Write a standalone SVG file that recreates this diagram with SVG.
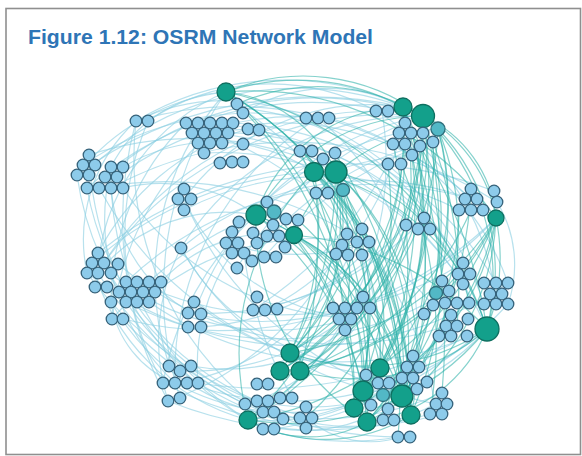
<svg xmlns="http://www.w3.org/2000/svg" width="582" height="456" viewBox="0 0 582 456">
<style>
.s{fill:#8dcbea;stroke:#35627a;stroke-width:1.3}
.h{fill:#13a08b;stroke:#0e6f60;stroke-width:1.3}
.m{fill:#52b8c6;stroke:#2f6f7c;stroke-width:1.3}
.b{fill:none;stroke:#8ccfe2;stroke-opacity:.62;stroke-width:1.2}
.t{fill:none;stroke:#2fb2a8;stroke-opacity:.58;stroke-width:1.2}
.title{font-family:"Liberation Sans",Arial,sans-serif;font-weight:bold;font-size:21px;fill:#2e75b6}
</style>
<rect x="0" y="0" width="582" height="456" fill="#fff"/>
<rect x="6" y="8.5" width="574.5" height="446" fill="#fff" stroke="#8f8f8f" stroke-width="1.6"/>
<text class="title" x="28" y="44" textLength="345" lengthAdjust="spacingAndGlyphs">Figure 1.12: OSRM Network Model</text>
<g id="connectors">
<path class="b" d="M175,383 A225,225 0 0 1 111,167"/>
<path class="b" d="M248,420 A288,288 0 0 1 111,167"/>
<path class="b" d="M111,167 A137,137 0 0 1 226,92"/>
<path class="b" d="M105,177 A324,324 0 0 1 423,116"/>
<path class="b" d="M99,160 A309,309 0 0 1 403,107"/>
<path class="b" d="M136,121 A287,287 0 0 1 423,116"/>
<path class="b" d="M263,412 A317,317 0 0 1 136,121"/>
<path class="b" d="M98,263 A213,213 0 0 1 226,92"/>
<path class="b" d="M248,420 A221,221 0 0 1 92,263"/>
<path class="b" d="M306,418 A227,227 0 0 1 111,302"/>
<path class="b" d="M104,263 A351,351 0 0 1 423,116"/>
<path class="b" d="M126,282 A355,355 0 0 1 471,199"/>
<path class="b" d="M169,365 A279,279 0 0 1 226,92"/>
<path class="b" d="M413,378 A238,238 0 0 1 175,383"/>
<path class="b" d="M435,404 A178,178 0 0 1 257,401"/>
<path class="b" d="M446,326 A219,219 0 0 1 248,420"/>
<path class="b" d="M402,396 A156,156 0 0 1 248,420"/>
<path class="b" d="M404,436 A100,100 0 0 1 306,418"/>
<path class="b" d="M184,199 A231,231 0 0 1 403,107"/>
<path class="b" d="M351,318 A205,205 0 0 1 184,199"/>
<path class="b" d="M210,133 A331,331 0 0 1 487,329"/>
<path class="b" d="M210,133 A284,284 0 0 1 463,263"/>
<path class="b" d="M210,133 A271,271 0 0 1 471,199"/>
<path class="b" d="M181,248 A295,295 0 0 1 471,199"/>
<path class="b" d="M380,368 A232,232 0 0 1 181,248"/>
<path class="b" d="M194,314 A306,306 0 0 1 423,116"/>
<path class="b" d="M496,218 A317,317 0 0 1 194,314"/>
<path class="b" d="M403,107 A245,245 0 0 1 265,310"/>
<path class="b" d="M240,108 A260,260 0 0 1 470,303"/>
<path class="b" d="M240,108 A295,295 0 0 1 380,368"/>
<path class="b" d="M255,130 A293,293 0 0 1 487,329"/>
<path class="b" d="M318,118 A277,277 0 0 1 413,378"/>
<path class="b" d="M175,383 A301,301 0 0 1 318,118"/>
<path class="b" d="M382,111 A317,317 0 0 1 263,412"/>
<path class="b" d="M98,273 A324,324 0 0 1 382,111"/>
<path class="b" d="M136,121 A347,347 0 0 1 471,199"/>
<path class="b" d="M351,318 A283,283 0 0 1 111,167"/>
<path class="b" d="M351,318 A259,259 0 0 1 98,263"/>
<path class="b" d="M355,242 A228,228 0 0 1 175,383"/>
<path class="b" d="M413,378 A366,366 0 0 1 99,188"/>
<path class="b" d="M210,133 A352,352 0 0 1 435,404"/>
<path class="b" d="M435,404 A350,350 0 0 1 184,199"/>
<path class="b" d="M181,248 A278,278 0 0 1 423,116"/>
<path class="b" d="M487,329 A339,339 0 0 1 149,302"/>
<path class="b" d="M487,329 A305,305 0 0 1 187,383"/>
<path class="b" d="M487,329 A240,240 0 0 1 257,401"/>
<path class="b" d="M257,401 A285,285 0 0 1 87,188"/>
<path class="b" d="M87,273 A160,160 0 0 1 136,121"/>
<path class="b" d="M194,314 A156,156 0 0 1 111,167"/>
<path class="b" d="M175,383 A103,103 0 0 1 111,302"/>
<path class="b" d="M98,273 A164,164 0 0 1 256,215"/>
<path class="b" d="M210,133 A131,131 0 0 1 336,172"/>
<path class="b" d="M243,113 A160,160 0 0 1 403,107"/>
<path class="b" d="M123,167 A180,180 0 0 1 314,172"/>
<path class="b" d="M123,188 A160,160 0 0 1 256,215"/>
<path class="b" d="M161,282 A150,150 0 0 1 294,235"/>
<path class="b" d="M155,292 A260,260 0 0 1 355,242"/>
<path class="b" d="M198,383 A200,200 0 0 1 232,253"/>
<path class="b" d="M168,401 A200,200 0 0 1 181,248"/>
<path class="b" d="M292,398 A400,400 0 0 1 244,253"/>
<path class="b" d="M263,429 A325,325 0 0 1 89,155"/>
<path class="b" d="M111,302 A250,250 0 0 1 186,123"/>
<path class="b" d="M77,175 A220,220 0 0 1 226,92"/>
<path class="b" d="M87,188 A340,340 0 0 1 388,111"/>
<path class="b" d="M112,319 A300,300 0 0 1 222,123"/>
<path class="b" d="M163,383 A300,300 0 0 1 148,121"/>
<path class="b" d="M245,404 A350,350 0 0 1 92,263"/>
<path class="b" d="M306,428 A350,350 0 0 1 123,319"/>
<path class="b" d="M430,414 A400,400 0 0 1 168,401"/>
<path class="b" d="M467,336 A420,420 0 0 1 198,383"/>
<path class="b" d="M508,304 A400,400 0 0 1 274,429"/>
<path class="b" d="M497,202 A120,120 0 0 1 508,304"/>
<path class="b" d="M329,118 A260,260 0 0 1 508,283"/>
<path class="b" d="M306,118 A300,300 0 0 1 484,304"/>
<path class="b" d="M376,111 A250,250 0 0 1 496,304"/>
<path class="b" d="M204,153 A290,290 0 0 1 463,284"/>
<path class="b" d="M233,123 A320,320 0 0 1 496,283"/>
<path class="b" d="M184,210 A300,300 0 0 1 459,210"/>
<path class="b" d="M99,188 A354,354 0 0 1 433,305"/>
<path class="b" d="M446,326 A340,340 0 0 1 118,264"/>
<path class="b" d="M449,291 A330,330 0 0 1 126,302"/>
<path class="b" d="M463,263 A340,340 0 0 1 137,282"/>
<path class="b" d="M424,218 A300,300 0 0 1 188,313"/>
<path class="b" d="M406,225 A260,260 0 0 1 253,310"/>
<path class="b" d="M362,255 A250,250 0 0 1 201,327"/>
<path class="b" d="M369,242 A220,220 0 0 1 226,243"/>
<path class="b" d="M336,254 A300,300 0 0 1 168,401"/>
<path class="b" d="M357,308 A250,250 0 0 1 180,371"/>
<path class="b" d="M345,330 A200,200 0 0 1 191,366"/>
<path class="b" d="M370,308 A250,250 0 0 1 257,401"/>
<path class="b" d="M442,393 A300,300 0 0 1 300,418"/>
<path class="b" d="M451,336 A280,280 0 0 1 312,418"/>
<path class="b" d="M232,232 A300,300 0 0 1 412,155"/>
<path class="b" d="M226,243 A300,300 0 0 1 399,133"/>
<path class="b" d="M237,268 A350,350 0 0 1 405,123"/>
<path class="b" d="M252,261 A300,300 0 0 1 433,142"/>
<path class="b" d="M388,164 A400,400 0 0 1 253,310"/>
<path class="b" d="M264,257 A400,400 0 0 1 420,146"/>
<path class="b" d="M98,253 A250,250 0 0 1 247,129"/>
<path class="b" d="M83,165 A300,300 0 0 1 306,118"/>
<path class="b" d="M77,175 A400,400 0 0 1 403,107"/>
<path class="b" d="M89,155 A330,330 0 0 1 336,172"/>
<path class="b" d="M92,263 A360,360 0 0 1 314,172"/>
<path class="b" d="M112,319 A380,380 0 0 1 256,215"/>
<path class="b" d="M163,383 A300,300 0 0 1 256,215"/>
<path class="b" d="M180,398 A350,350 0 0 1 226,92"/>
<path class="b" d="M168,401 A380,380 0 0 1 136,121"/>
<path class="b" d="M245,404 A300,300 0 0 1 77,175"/>
<path class="b" d="M283,419 A350,350 0 0 1 98,253"/>
<path class="b" d="M312,418 A380,380 0 0 1 87,273"/>
<path class="b" d="M442,414 A380,380 0 0 1 163,383"/>
<path class="b" d="M410,437 A400,400 0 0 1 245,404"/>
<path class="b" d="M398,437 A300,300 0 0 1 263,429"/>
<path class="b" d="M496,218 A400,400 0 0 1 123,319"/>
<path class="b" d="M508,283 A360,360 0 0 1 87,273"/>
<path class="b" d="M111,188 A380,380 0 0 1 497,202"/>
<path class="b" d="M98,253 A400,400 0 0 1 494,191"/>
<path class="b" d="M117,177 A300,300 0 0 1 329,118"/>
<path class="b" d="M136,121 A200,200 0 0 1 306,118"/>
<path class="b" d="M148,121 A220,220 0 0 1 376,111"/>
<path class="b" d="M402,396 A300,300 0 0 1 181,248"/>
<path class="b" d="M380,368 A300,300 0 0 1 194,302"/>
<path class="t" d="M423,116 A351,351 0 0 1 248,420"/>
<path class="t" d="M403,107 A349,349 0 0 1 248,420"/>
<path class="t" d="M226,92 A351,351 0 0 1 402,396"/>
<path class="t" d="M226,92 A352,352 0 0 1 487,329"/>
<path class="t" d="M226,92 A198,198 0 0 1 423,116"/>
<path class="t" d="M423,116 A222,222 0 0 1 487,329"/>
<path class="t" d="M403,107 A287,287 0 0 1 363,391"/>
<path class="t" d="M423,116 A311,311 0 0 1 367,422"/>
<path class="t" d="M336,172 A254,254 0 0 1 411,415"/>
<path class="t" d="M314,172 A239,239 0 0 1 354,408"/>
<path class="t" d="M336,172 A187,187 0 0 1 290,353"/>
<path class="t" d="M496,218 A218,218 0 0 1 363,391"/>
<path class="t" d="M496,218 A241,241 0 0 1 367,422"/>
<path class="t" d="M438,129 A269,269 0 0 1 402,396"/>
<path class="t" d="M256,215 A194,194 0 0 1 423,116"/>
<path class="t" d="M256,215 A197,197 0 0 1 380,368"/>
<path class="t" d="M294,235 A215,215 0 0 1 411,415"/>
<path class="t" d="M403,107 A305,305 0 0 1 354,408"/>
<path class="t" d="M423,116 A283,283 0 0 1 300,371"/>
<path class="t" d="M487,329 A152,152 0 0 1 367,422"/>
<path class="t" d="M487,329 A256,256 0 0 1 248,420"/>
<path class="t" d="M226,92 A136,136 0 0 1 336,172"/>
<path class="t" d="M226,92 A298,298 0 0 1 496,218"/>
<path class="t" d="M314,172 A207,207 0 0 1 380,368"/>
<path class="t" d="M403,107 A145,145 0 0 1 496,218"/>
<path class="t" d="M423,116 A125,125 0 0 1 496,218"/>
<path class="t" d="M438,129 A206,206 0 0 1 487,329"/>
<path class="t" d="M336,172 A234,234 0 0 1 402,396"/>
<path class="t" d="M367,422 A235,235 0 0 1 256,215"/>
<path class="t" d="M248,420 A257,257 0 0 1 314,172"/>
<path class="t" d="M294,235 A194,194 0 0 1 402,396"/>
<path class="t" d="M405,144 A259,259 0 0 1 280,371"/>
<path class="t" d="M423,116 A214,214 0 0 1 351,318"/>
<path class="t" d="M403,107 A326,326 0 0 1 306,418"/>
<path class="t" d="M496,218 A320,320 0 0 1 248,420"/>
<path class="t" d="M496,218 A265,265 0 0 1 280,371"/>
<path class="t" d="M226,92 A372,372 0 0 1 411,415"/>
<path class="t" d="M336,172 A187,187 0 0 1 470,303"/>
<path class="t" d="M314,172 A234,234 0 0 1 487,329"/>
<path class="t" d="M438,129 A246,246 0 0 1 380,368"/>
<path class="t" d="M403,107 A271,271 0 0 1 290,353"/>
<path class="t" d="M294,235 A171,171 0 0 1 363,391"/>
<path class="t" d="M423,116 A272,272 0 0 1 290,353"/>
<path class="t" d="M336,172 A263,263 0 0 1 248,420"/>
<path class="t" d="M393,144 A500,500 0 0 1 383,420"/>
<path class="t" d="M412,155 A500,500 0 0 1 413,378"/>
<path class="t" d="M343,190 A450,450 0 0 1 345,330"/>
<path class="t" d="M328,193 A500,500 0 0 1 371,405"/>
<path class="t" d="M405,123 A600,600 0 0 1 442,393"/>
<path class="t" d="M401,164 A450,450 0 0 1 430,414"/>
<path class="t" d="M420,146 A500,500 0 0 1 487,329"/>
<path class="t" d="M388,164 A500,500 0 0 1 354,408"/>
<path class="t" d="M433,142 A420,420 0 0 1 457,326"/>
<path class="t" d="M316,193 A500,500 0 0 1 300,371"/>
<path class="t" d="M274,212 A400,400 0 0 1 363,391"/>
<path class="t" d="M298,220 A350,350 0 0 1 402,396"/>
<path class="t" d="M362,229 A400,400 0 0 1 398,437"/>
<path class="t" d="M424,218 A350,350 0 0 1 388,409"/>
<path class="t" d="M335,153 A500,500 0 0 1 411,415"/>
<path class="t" d="M471,189 A400,400 0 0 1 402,396"/>
<path class="t" d="M459,210 A300,300 0 0 1 367,422"/>
<path class="t" d="M496,218 A200,200 0 0 1 487,329"/>
<path class="t" d="M226,92 A220,220 0 0 1 403,107"/>
<path class="t" d="M237,104 A200,200 0 0 1 423,116"/>
<path class="t" d="M256,215 A160,160 0 0 1 403,107"/>
<path class="t" d="M294,235 A170,170 0 0 1 438,129"/>
<path class="t" d="M367,422 A119,119 0 0 1 248,420"/>
<path class="t" d="M411,415 A163,163 0 0 1 248,420"/>
<path class="t" d="M256,215 A400,400 0 0 1 402,396"/>
<path class="t" d="M294,235 A300,300 0 0 1 487,329"/>
<path class="t" d="M314,172 A350,350 0 0 1 411,415"/>
<path class="t" d="M336,172 A400,400 0 0 1 363,391"/>
<path class="t" d="M403,107 A400,400 0 0 1 380,368"/>
<path class="t" d="M423,116 A400,400 0 0 1 402,396"/>
<path class="t" d="M226,92 A400,400 0 0 1 363,391"/>
<path class="t" d="M226,92 A420,420 0 0 1 354,408"/>
<path class="t" d="M256,215 A300,300 0 0 1 367,422"/>
<path class="t" d="M294,235 A260,260 0 0 1 354,408"/>
<path class="t" d="M314,172 A300,300 0 0 1 290,353"/>
<path class="t" d="M336,172 A280,280 0 0 1 280,371"/>
<path class="t" d="M423,116 A320,320 0 0 1 280,371"/>
<path class="t" d="M438,129 A300,300 0 0 1 300,371"/>
<path class="t" d="M496,218 A300,300 0 0 1 300,371"/>
<path class="t" d="M496,218 A300,300 0 0 1 290,353"/>
<path class="t" d="M487,329 A200,200 0 0 1 300,371"/>
<path class="t" d="M487,329 A220,220 0 0 1 290,353"/>
<path class="t" d="M496,218 A280,280 0 0 1 354,408"/>
<path class="t" d="M403,107 A360,360 0 0 1 411,415"/>
<path class="t" d="M438,129 A320,320 0 0 1 367,422"/>
<path class="t" d="M336,172 A300,300 0 0 1 354,408"/>
<path class="t" d="M423,116 A380,380 0 0 1 354,408"/>
<path class="t" d="M256,215 A250,250 0 0 1 411,415"/>
<path class="t" d="M226,92 A300,300 0 0 1 380,368"/>
<path class="t" d="M314,172 A260,260 0 0 1 402,396"/>
<path class="t" d="M362,229 A300,300 0 0 1 290,353"/>
<path class="t" d="M406,225 A300,300 0 0 1 280,371"/>
<path class="t" d="M471,210 A300,300 0 0 1 300,371"/>
<path class="t" d="M433,142 A400,400 0 0 1 363,391"/>
<path class="t" d="M343,190 A400,400 0 0 1 402,396"/>
<path class="t" d="M316,193 A400,400 0 0 1 367,422"/>
<path class="t" d="M335,153 A380,380 0 0 1 290,353"/>
<path class="t" d="M300,151 A500,500 0 0 1 345,330"/>
</g>
<g id="n1"><circle class="h" cx="226" cy="92" r="9"/></g>
<g id="n2"><circle class="s" cx="237" cy="104" r="5.8"/></g>
<g id="n3"><circle class="s" cx="243" cy="113" r="5.8"/></g>
<g id="n4"><circle class="s" cx="136" cy="121" r="5.8"/></g>
<g id="n5"><circle class="s" cx="148" cy="121" r="5.8"/></g>
<g id="n6"><circle class="s" cx="186" cy="123" r="5.8"/></g>
<g id="n7"><circle class="s" cx="198" cy="123" r="5.8"/></g>
<g id="n8"><circle class="s" cx="210" cy="123" r="5.8"/></g>
<g id="n9"><circle class="s" cx="222" cy="123" r="5.8"/></g>
<g id="n10"><circle class="s" cx="233" cy="123" r="5.8"/></g>
<g id="n11"><circle class="s" cx="248" cy="129" r="5.8"/></g>
<g id="n12"><circle class="s" cx="259" cy="130" r="5.8"/></g>
<g id="n13"><circle class="s" cx="192" cy="133" r="5.8"/></g>
<g id="n14"><circle class="s" cx="204" cy="133" r="5.8"/></g>
<g id="n15"><circle class="s" cx="216" cy="133" r="5.8"/></g>
<g id="n16"><circle class="s" cx="228" cy="133" r="5.8"/></g>
<g id="n17"><circle class="s" cx="198" cy="143" r="5.8"/></g>
<g id="n18"><circle class="s" cx="210" cy="143" r="5.8"/></g>
<g id="n19"><circle class="s" cx="222" cy="143" r="5.8"/></g>
<g id="n20"><circle class="s" cx="243" cy="144" r="5.8"/></g>
<g id="n21"><circle class="s" cx="204" cy="153" r="5.8"/></g>
<g id="n22"><circle class="s" cx="220" cy="163" r="5.8"/></g>
<g id="n23"><circle class="s" cx="232" cy="162" r="5.8"/></g>
<g id="n24"><circle class="s" cx="243" cy="162" r="5.8"/></g>
<g id="n25"><circle class="s" cx="89" cy="155" r="5.8"/></g>
<g id="n26"><circle class="s" cx="83" cy="165" r="5.8"/></g>
<g id="n27"><circle class="s" cx="95" cy="165" r="5.8"/></g>
<g id="n28"><circle class="s" cx="77" cy="175" r="5.8"/></g>
<g id="n29"><circle class="s" cx="89" cy="175" r="5.8"/></g>
<g id="n30"><circle class="s" cx="111" cy="167" r="5.8"/></g>
<g id="n31"><circle class="s" cx="123" cy="167" r="5.8"/></g>
<g id="n32"><circle class="s" cx="105" cy="177" r="5.8"/></g>
<g id="n33"><circle class="s" cx="117" cy="177" r="5.8"/></g>
<g id="n34"><circle class="s" cx="87" cy="188" r="5.8"/></g>
<g id="n35"><circle class="s" cx="99" cy="188" r="5.8"/></g>
<g id="n36"><circle class="s" cx="111" cy="188" r="5.8"/></g>
<g id="n37"><circle class="s" cx="123" cy="188" r="5.8"/></g>
<g id="n38"><circle class="s" cx="184" cy="189" r="5.8"/></g>
<g id="n39"><circle class="s" cx="178" cy="199" r="5.8"/></g>
<g id="n40"><circle class="s" cx="191" cy="199" r="5.8"/></g>
<g id="n41"><circle class="s" cx="184" cy="210" r="5.8"/></g>
<g id="n42"><circle class="s" cx="181" cy="248" r="5.8"/></g>
<g id="n43"><circle class="s" cx="98" cy="253" r="5.8"/></g>
<g id="n44"><circle class="s" cx="92" cy="263" r="5.8"/></g>
<g id="n45"><circle class="s" cx="104" cy="263" r="5.8"/></g>
<g id="n46"><circle class="s" cx="118" cy="264" r="5.8"/></g>
<g id="n47"><circle class="s" cx="87" cy="273" r="5.8"/></g>
<g id="n48"><circle class="s" cx="98" cy="273" r="5.8"/></g>
<g id="n49"><circle class="s" cx="111" cy="273" r="5.8"/></g>
<g id="n50"><circle class="s" cx="95" cy="287" r="5.8"/></g>
<g id="n51"><circle class="s" cx="107" cy="287" r="5.8"/></g>
<g id="n52"><circle class="s" cx="126" cy="282" r="5.8"/></g>
<g id="n53"><circle class="s" cx="137" cy="282" r="5.8"/></g>
<g id="n54"><circle class="s" cx="149" cy="282" r="5.8"/></g>
<g id="n55"><circle class="s" cx="161" cy="282" r="5.8"/></g>
<g id="n56"><circle class="s" cx="119" cy="292" r="5.8"/></g>
<g id="n57"><circle class="s" cx="131" cy="292" r="5.8"/></g>
<g id="n58"><circle class="s" cx="143" cy="292" r="5.8"/></g>
<g id="n59"><circle class="s" cx="155" cy="292" r="5.8"/></g>
<g id="n60"><circle class="s" cx="111" cy="302" r="5.8"/></g>
<g id="n61"><circle class="s" cx="126" cy="302" r="5.8"/></g>
<g id="n62"><circle class="s" cx="137" cy="302" r="5.8"/></g>
<g id="n63"><circle class="s" cx="149" cy="302" r="5.8"/></g>
<g id="n64"><circle class="s" cx="112" cy="319" r="5.8"/></g>
<g id="n65"><circle class="s" cx="123" cy="319" r="5.8"/></g>
<g id="n66"><circle class="s" cx="194" cy="302" r="5.8"/></g>
<g id="n67"><circle class="s" cx="188" cy="313" r="5.8"/></g>
<g id="n68"><circle class="s" cx="201" cy="314" r="5.8"/></g>
<g id="n69"><circle class="s" cx="188" cy="327" r="5.8"/></g>
<g id="n70"><circle class="s" cx="201" cy="327" r="5.8"/></g>
<g id="n71"><circle class="s" cx="306" cy="118" r="5.8"/></g>
<g id="n72"><circle class="s" cx="318" cy="118" r="5.8"/></g>
<g id="n73"><circle class="s" cx="329" cy="118" r="5.8"/></g>
<g id="n74"><circle class="s" cx="376" cy="111" r="5.8"/></g>
<g id="n75"><circle class="s" cx="388" cy="111" r="5.8"/></g>
<g id="n76"><circle class="h" cx="403" cy="107" r="9"/></g>
<g id="n77"><circle class="h" cx="423" cy="116" r="11.5"/></g>
<g id="n78"><circle class="m" cx="438" cy="129" r="7"/></g>
<g id="n79"><circle class="s" cx="405" cy="123" r="5.8"/></g>
<g id="n80"><circle class="s" cx="399" cy="133" r="5.8"/></g>
<g id="n81"><circle class="s" cx="411" cy="133" r="5.8"/></g>
<g id="n82"><circle class="s" cx="423" cy="133" r="5.8"/></g>
<g id="n83"><circle class="s" cx="393" cy="144" r="5.8"/></g>
<g id="n84"><circle class="s" cx="405" cy="144" r="5.8"/></g>
<g id="n85"><circle class="s" cx="420" cy="146" r="5.8"/></g>
<g id="n86"><circle class="s" cx="433" cy="142" r="5.8"/></g>
<g id="n87"><circle class="s" cx="412" cy="155" r="5.8"/></g>
<g id="n88"><circle class="s" cx="388" cy="164" r="5.8"/></g>
<g id="n89"><circle class="s" cx="401" cy="164" r="5.8"/></g>
<g id="n90"><circle class="s" cx="300" cy="151" r="5.8"/></g>
<g id="n91"><circle class="s" cx="312" cy="151" r="5.8"/></g>
<g id="n92"><circle class="s" cx="335" cy="153" r="5.8"/></g>
<g id="n93"><circle class="s" cx="323" cy="159" r="5.8"/></g>
<g id="n94"><circle class="h" cx="314" cy="172" r="9.5"/></g>
<g id="n95"><circle class="h" cx="336" cy="172" r="11"/></g>
<g id="n96"><circle class="s" cx="316" cy="193" r="5.8"/></g>
<g id="n97"><circle class="s" cx="328" cy="193" r="5.8"/></g>
<g id="n98"><circle class="m" cx="343" cy="190" r="6.5"/></g>
<g id="n99"><circle class="h" cx="256" cy="215" r="10"/></g>
<g id="n100"><circle class="s" cx="267" cy="202" r="5.8"/></g>
<g id="n101"><circle class="m" cx="274" cy="212" r="7"/></g>
<g id="n102"><circle class="s" cx="286" cy="219" r="5.8"/></g>
<g id="n103"><circle class="s" cx="298" cy="220" r="5.8"/></g>
<g id="n104"><circle class="s" cx="239" cy="222" r="5.8"/></g>
<g id="n105"><circle class="s" cx="253" cy="233" r="5.8"/></g>
<g id="n106"><circle class="s" cx="273" cy="225" r="5.8"/></g>
<g id="n107"><circle class="s" cx="267" cy="236" r="5.8"/></g>
<g id="n108"><circle class="s" cx="279" cy="236" r="5.8"/></g>
<g id="n109"><circle class="h" cx="294" cy="235" r="8.5"/></g>
<g id="n110"><circle class="s" cx="232" cy="232" r="5.8"/></g>
<g id="n111"><circle class="s" cx="226" cy="243" r="5.8"/></g>
<g id="n112"><circle class="s" cx="238" cy="243" r="5.8"/></g>
<g id="n113"><circle class="s" cx="257" cy="243" r="5.8"/></g>
<g id="n114"><circle class="s" cx="285" cy="247" r="5.8"/></g>
<g id="n115"><circle class="s" cx="232" cy="253" r="5.8"/></g>
<g id="n116"><circle class="s" cx="244" cy="253" r="5.8"/></g>
<g id="n117"><circle class="s" cx="264" cy="257" r="5.8"/></g>
<g id="n118"><circle class="s" cx="276" cy="257" r="5.8"/></g>
<g id="n119"><circle class="s" cx="252" cy="261" r="5.8"/></g>
<g id="n120"><circle class="s" cx="237" cy="268" r="5.8"/></g>
<g id="n121"><circle class="s" cx="257" cy="297" r="5.8"/></g>
<g id="n122"><circle class="s" cx="253" cy="310" r="5.8"/></g>
<g id="n123"><circle class="s" cx="265" cy="310" r="5.8"/></g>
<g id="n124"><circle class="s" cx="277" cy="309" r="5.8"/></g>
<g id="n125"><circle class="s" cx="406" cy="225" r="5.8"/></g>
<g id="n126"><circle class="s" cx="424" cy="218" r="5.8"/></g>
<g id="n127"><circle class="s" cx="418" cy="229" r="5.8"/></g>
<g id="n128"><circle class="s" cx="430" cy="229" r="5.8"/></g>
<g id="n129"><circle class="s" cx="362" cy="229" r="5.8"/></g>
<g id="n130"><circle class="s" cx="347" cy="234" r="5.8"/></g>
<g id="n131"><circle class="s" cx="357" cy="242" r="5.8"/></g>
<g id="n132"><circle class="s" cx="369" cy="242" r="5.8"/></g>
<g id="n133"><circle class="s" cx="342" cy="245" r="5.8"/></g>
<g id="n134"><circle class="s" cx="336" cy="254" r="5.8"/></g>
<g id="n135"><circle class="s" cx="348" cy="255" r="5.8"/></g>
<g id="n136"><circle class="s" cx="362" cy="255" r="5.8"/></g>
<g id="n137"><circle class="s" cx="471" cy="189" r="5.8"/></g>
<g id="n138"><circle class="s" cx="465" cy="199" r="5.8"/></g>
<g id="n139"><circle class="s" cx="477" cy="199" r="5.8"/></g>
<g id="n140"><circle class="s" cx="459" cy="210" r="5.8"/></g>
<g id="n141"><circle class="s" cx="471" cy="210" r="5.8"/></g>
<g id="n142"><circle class="s" cx="483" cy="210" r="5.8"/></g>
<g id="n143"><circle class="s" cx="494" cy="191" r="5.8"/></g>
<g id="n144"><circle class="s" cx="497" cy="202" r="5.8"/></g>
<g id="n145"><circle class="h" cx="496" cy="218" r="8"/></g>
<g id="n146"><circle class="s" cx="463" cy="263" r="5.8"/></g>
<g id="n147"><circle class="s" cx="458" cy="274" r="5.8"/></g>
<g id="n148"><circle class="s" cx="470" cy="274" r="5.8"/></g>
<g id="n149"><circle class="s" cx="463" cy="284" r="5.8"/></g>
<g id="n150"><circle class="s" cx="442" cy="281" r="5.8"/></g>
<g id="n151"><circle class="m" cx="436" cy="293" r="6.5"/></g>
<g id="n152"><circle class="s" cx="449" cy="291" r="5.8"/></g>
<g id="n153"><circle class="s" cx="433" cy="305" r="5.8"/></g>
<g id="n154"><circle class="s" cx="445" cy="303" r="5.8"/></g>
<g id="n155"><circle class="s" cx="457" cy="303" r="5.8"/></g>
<g id="n156"><circle class="s" cx="469" cy="303" r="5.8"/></g>
<g id="n157"><circle class="s" cx="484" cy="283" r="5.8"/></g>
<g id="n158"><circle class="s" cx="496" cy="283" r="5.8"/></g>
<g id="n159"><circle class="s" cx="508" cy="283" r="5.8"/></g>
<g id="n160"><circle class="s" cx="490" cy="294" r="5.8"/></g>
<g id="n161"><circle class="s" cx="502" cy="294" r="5.8"/></g>
<g id="n162"><circle class="s" cx="484" cy="304" r="5.8"/></g>
<g id="n163"><circle class="s" cx="496" cy="304" r="5.8"/></g>
<g id="n164"><circle class="s" cx="508" cy="304" r="5.8"/></g>
<g id="n165"><circle class="h" cx="487" cy="329" r="12"/></g>
<g id="n166"><circle class="s" cx="451" cy="315" r="5.8"/></g>
<g id="n167"><circle class="s" cx="468" cy="319" r="5.8"/></g>
<g id="n168"><circle class="s" cx="446" cy="326" r="5.8"/></g>
<g id="n169"><circle class="s" cx="457" cy="326" r="5.8"/></g>
<g id="n170"><circle class="s" cx="439" cy="336" r="5.8"/></g>
<g id="n171"><circle class="s" cx="451" cy="336" r="5.8"/></g>
<g id="n172"><circle class="s" cx="467" cy="336" r="5.8"/></g>
<g id="n173"><circle class="s" cx="424" cy="314" r="5.8"/></g>
<g id="n174"><circle class="s" cx="363" cy="297" r="5.8"/></g>
<g id="n175"><circle class="s" cx="333" cy="308" r="5.8"/></g>
<g id="n176"><circle class="s" cx="345" cy="308" r="5.8"/></g>
<g id="n177"><circle class="s" cx="357" cy="308" r="5.8"/></g>
<g id="n178"><circle class="s" cx="370" cy="308" r="5.8"/></g>
<g id="n179"><circle class="s" cx="339" cy="319" r="5.8"/></g>
<g id="n180"><circle class="s" cx="351" cy="319" r="5.8"/></g>
<g id="n181"><circle class="s" cx="345" cy="330" r="5.8"/></g>
<g id="n182"><circle class="s" cx="169" cy="366" r="5.8"/></g>
<g id="n183"><circle class="s" cx="191" cy="366" r="5.8"/></g>
<g id="n184"><circle class="s" cx="180" cy="371" r="5.8"/></g>
<g id="n185"><circle class="s" cx="163" cy="383" r="5.8"/></g>
<g id="n186"><circle class="s" cx="175" cy="383" r="5.8"/></g>
<g id="n187"><circle class="s" cx="187" cy="383" r="5.8"/></g>
<g id="n188"><circle class="s" cx="198" cy="383" r="5.8"/></g>
<g id="n189"><circle class="s" cx="168" cy="401" r="5.8"/></g>
<g id="n190"><circle class="s" cx="180" cy="398" r="5.8"/></g>
<g id="n191"><circle class="h" cx="290" cy="353" r="9"/></g>
<g id="n192"><circle class="h" cx="280" cy="371" r="9"/></g>
<g id="n193"><circle class="h" cx="300" cy="371" r="9"/></g>
<g id="n194"><circle class="s" cx="257" cy="384" r="5.8"/></g>
<g id="n195"><circle class="s" cx="268" cy="384" r="5.8"/></g>
<g id="n196"><circle class="s" cx="245" cy="404" r="5.8"/></g>
<g id="n197"><circle class="s" cx="257" cy="401" r="5.8"/></g>
<g id="n198"><circle class="s" cx="268" cy="401" r="5.8"/></g>
<g id="n199"><circle class="s" cx="280" cy="398" r="5.8"/></g>
<g id="n200"><circle class="s" cx="292" cy="398" r="5.8"/></g>
<g id="n201"><circle class="s" cx="263" cy="412" r="5.8"/></g>
<g id="n202"><circle class="s" cx="274" cy="412" r="5.8"/></g>
<g id="n203"><circle class="s" cx="283" cy="419" r="5.8"/></g>
<g id="n204"><circle class="h" cx="248" cy="420" r="9"/></g>
<g id="n205"><circle class="s" cx="263" cy="429" r="5.8"/></g>
<g id="n206"><circle class="s" cx="274" cy="429" r="5.8"/></g>
<g id="n207"><circle class="s" cx="306" cy="407" r="5.8"/></g>
<g id="n208"><circle class="s" cx="300" cy="418" r="5.8"/></g>
<g id="n209"><circle class="s" cx="312" cy="418" r="5.8"/></g>
<g id="n210"><circle class="s" cx="306" cy="428" r="5.8"/></g>
<g id="n211"><circle class="h" cx="380" cy="368" r="9"/></g>
<g id="n212"><circle class="s" cx="366" cy="375" r="5.8"/></g>
<g id="n213"><circle class="s" cx="378" cy="383" r="5.8"/></g>
<g id="n214"><circle class="s" cx="389" cy="383" r="5.8"/></g>
<g id="n215"><circle class="h" cx="363" cy="391" r="10"/></g>
<g id="n216"><circle class="m" cx="383" cy="395" r="6.5"/></g>
<g id="n217"><circle class="h" cx="402" cy="396" r="11"/></g>
<g id="n218"><circle class="h" cx="354" cy="408" r="9"/></g>
<g id="n219"><circle class="s" cx="371" cy="405" r="5.8"/></g>
<g id="n220"><circle class="s" cx="388" cy="409" r="5.8"/></g>
<g id="n221"><circle class="h" cx="367" cy="422" r="9"/></g>
<g id="n222"><circle class="s" cx="383" cy="420" r="5.8"/></g>
<g id="n223"><circle class="s" cx="394" cy="420" r="5.8"/></g>
<g id="n224"><circle class="h" cx="411" cy="415" r="9"/></g>
<g id="n225"><circle class="s" cx="413" cy="356" r="5.8"/></g>
<g id="n226"><circle class="s" cx="407" cy="367" r="5.8"/></g>
<g id="n227"><circle class="s" cx="419" cy="367" r="5.8"/></g>
<g id="n228"><circle class="s" cx="402" cy="378" r="5.8"/></g>
<g id="n229"><circle class="s" cx="413" cy="378" r="5.8"/></g>
<g id="n230"><circle class="s" cx="427" cy="382" r="5.8"/></g>
<g id="n231"><circle class="s" cx="417" cy="389" r="5.8"/></g>
<g id="n232"><circle class="s" cx="442" cy="393" r="5.8"/></g>
<g id="n233"><circle class="s" cx="436" cy="404" r="5.8"/></g>
<g id="n234"><circle class="s" cx="447" cy="404" r="5.8"/></g>
<g id="n235"><circle class="s" cx="430" cy="414" r="5.8"/></g>
<g id="n236"><circle class="s" cx="442" cy="414" r="5.8"/></g>
<g id="n237"><circle class="s" cx="398" cy="437" r="5.8"/></g>
<g id="n238"><circle class="s" cx="410" cy="437" r="5.8"/></g>
</svg>
